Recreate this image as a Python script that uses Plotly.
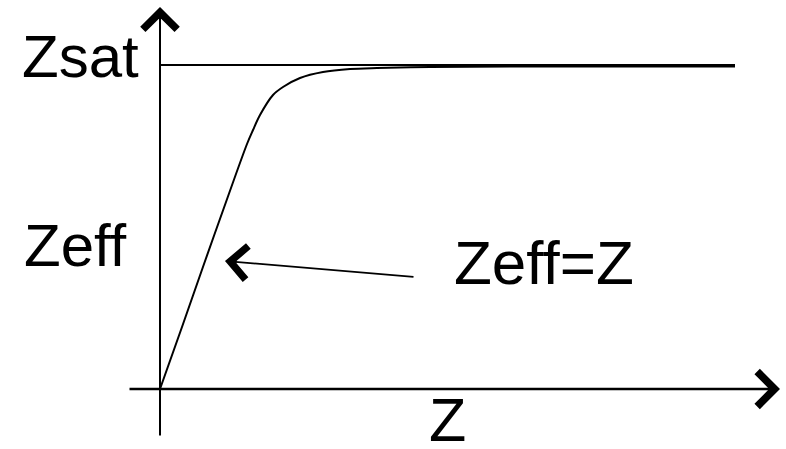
import plotly.graph_objects as go

# Curve (Z, Zeff), origin at axis crossing
z_vals = [0, 22, 44, 66, 87, 93, 100, 113, 123, 140, 163, 190, 217, 270, 350, 575]
zeff_vals = [0, 62, 125, 187, 245, 259, 274, 294, 302, 311, 317, 320, 321, 322, 322.5, 322.5]
z_sat = 324
z_max = 575

labels = {"sat": "Zsat", "eff": "Zeff", "x": "Z", "note": "Zeff=Z"}

FONT = "Liberation Sans, Arial, sans-serif"

fig = go.Figure()
fig.add_trace(go.Scatter(x=z_vals, y=zeff_vals, mode="lines",
                         line=dict(color="black", width=2, shape="spline", smoothing=0.9),
                         hoverinfo="skip", showlegend=False))
fig.add_trace(go.Scatter(x=[0, z_max], y=[z_sat, z_sat], mode="lines",
                         line=dict(color="black", width=2),
                         hoverinfo="skip", showlegend=False))

arrow_common = dict(showarrow=True, text="", arrowhead=4, arrowcolor="black",
                    axref="x", ayref="y", xref="x", yref="y", standoff=0, startstandoff=0)
# vertical axis
fig.add_annotation(x=0, y=382, ax=0, ay=-48, arrowwidth=2, arrowsize=3.3, **arrow_common)
# horizontal axis
fig.add_annotation(x=620, y=0, ax=-32, ay=0, arrowwidth=2.4, arrowsize=2.8, **arrow_common)
# pointer arrow
fig.add_annotation(x=65, y=128, ax=255, ay=112, arrowwidth=1.8, arrowsize=3.6, **arrow_common)

txt = dict(showarrow=False, xref="x", yref="y", font=dict(family=FONT, size=60, color="black"),
           xanchor="center", yanchor="middle")
fig.add_annotation(x=-80, y=333, text=labels["sat"], **txt)
fig.add_annotation(x=-85, y=144, text=labels["eff"], **txt)
fig.add_annotation(x=384, y=127, text=labels["note"], **{**txt, "font": dict(family=FONT, size=62, color="black")})
fig.add_annotation(x=287, y=-31, text=labels["x"], **{**txt, "font": dict(family=FONT, size=61, color="black")})

fig.update_layout(width=786, height=449, margin=dict(l=0, r=0, t=0, b=0),
                  paper_bgcolor="white", plot_bgcolor="white",
                  xaxis=dict(range=[-160, 626], visible=False, fixedrange=True),
                  yaxis=dict(range=[-60, 389], visible=False, fixedrange=True))
fig.write_html("out.html", config={"displayModeBar": False},
               post_script="document.body.style.margin='0';document.body.style.overflow='hidden';")
